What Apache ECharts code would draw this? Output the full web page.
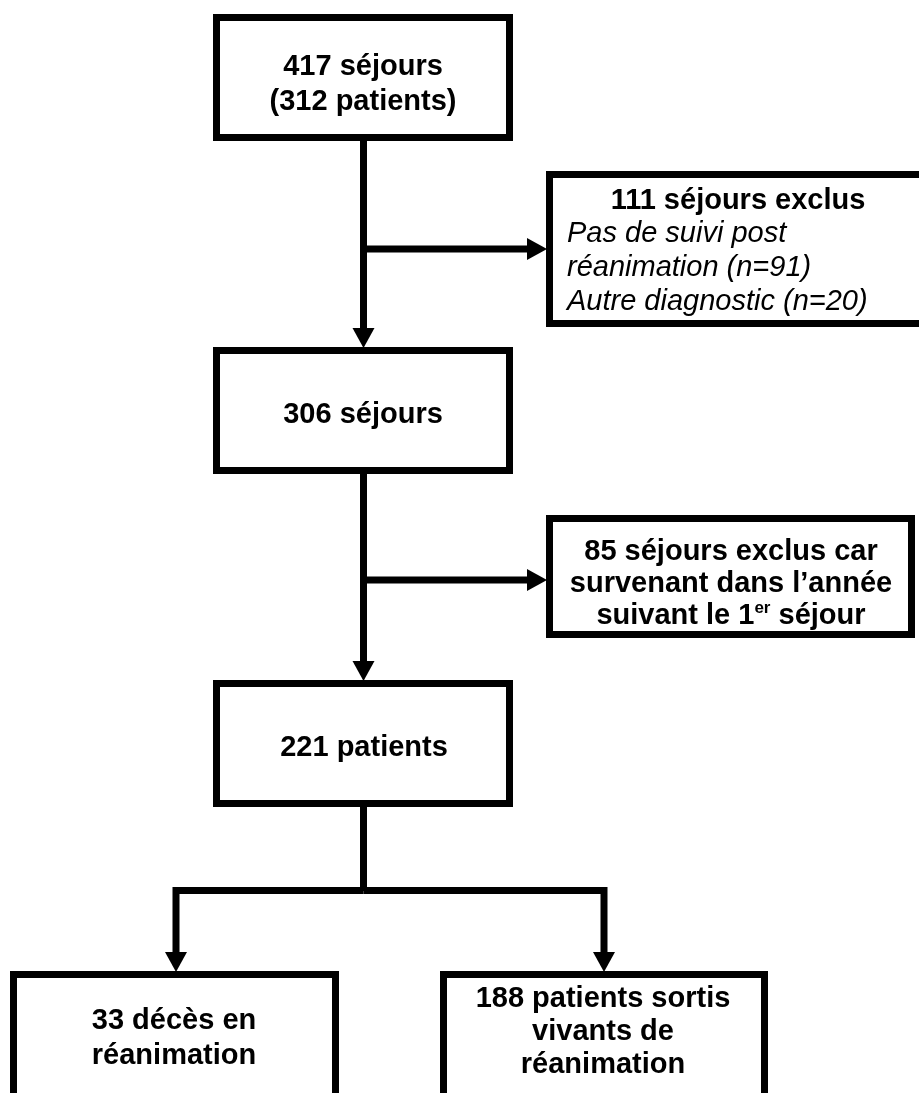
<!DOCTYPE html>
<html>
<head>
<meta charset="utf-8">
<title>Flowchart</title>
<script src="https://cdn.jsdelivr.net/npm/echarts@6/dist/echarts.min.js"></script>
<style>
  html, body { margin: 0; padding: 0; background: #fff; }
  #chart { width: 919px; height: 1093px; }
</style>
</head>
<body>
<div id="chart"></div>
<script>
// data: texts of the boxes
const stepLines = [
  ['417 séjours', '(312 patients)'],
  ['306 séjours'],
  ['221 patients']
];
const exclusion1Title = '111 séjours exclus';
const exclusion1Reasons = ['Pas de suivi post', 'réanimation (n=91)', 'Autre diagnostic (n=20)'];
const exclusion2Lines = ['85 séjours exclus car', 'survenant dans l’année', 'suivant le 1{sup|er} séjour'];
const outcomeLines = [
  ['33 décès en', 'réanimation'],
  ['188 patients sortis', 'vivants de', 'réanimation']
];

// layout (outer edges of boxes, in page units)
const boxLayout = [
  { x0: 213, y0: 14,  x1: 513, y1: 141, texts: [{ lines: stepLines[0], cx: 363, cy: 84, lh: 35 }] },
  { x0: 546, y0: 171, x1: 945, y1: 327, texts: [
      { lines: [exclusion1Title], cx: 738, cy: 201, lh: 34 },
      { lines: exclusion1Reasons, cx: 567, cy: 268, lh: 34, italic: true, align: 'left' }
  ] },
  { x0: 213, y0: 347, x1: 513, y1: 474, texts: [{ lines: stepLines[1], cx: 363, cy: 415, lh: 35 }] },
  { x0: 546, y0: 515, x1: 915, y1: 638, texts: [{ lines: exclusion2Lines, cx: 731, cy: 584, lh: 32 }] },
  { x0: 213, y0: 680, x1: 513, y1: 807, texts: [{ lines: stepLines[2], cx: 364, cy: 748, lh: 35 }] },
  { x0: 10,  y0: 971, x1: 339, y1: 1110, texts: [{ lines: outcomeLines[0], cx: 174, cy: 1038, lh: 35 }] },
  { x0: 440, y0: 971, x1: 768, y1: 1110, texts: [{ lines: outcomeLines[1], cx: 603, cy: 1032, lh: 33 }] }
];

const connectors = [
  { points: [[363.5, 141], [363.5, 348]], arrow: true },
  { points: [[363.5, 249], [547, 249]], arrow: true },
  { points: [[363.5, 474], [363.5, 681]], arrow: true },
  { points: [[363.5, 580], [547, 580]], arrow: true },
  { points: [[363.5, 807], [363.5, 891]], arrow: false },
  { points: [[363.5, 890.5], [176, 890.5], [176, 972]], arrow: true },
  { points: [[363.5, 890.5], [604, 890.5], [604, 972]], arrow: true }
];

const LINE_W = 7;
const ARROW_LEN = 20;
const ARROW_HALF = 11;
const FONT = '"Liberation Sans", Arial, Helvetica, sans-serif';
const FONT_SIZE = 29;

const chart = echarts.init(document.getElementById('chart'));

function renderBox(params, api) {
  const b = boxLayout[params.dataIndex];
  const p0 = api.coord([api.value(0), api.value(1)]);
  const p1 = api.coord([api.value(2), api.value(3)]);
  const children = [{
    type: 'rect',
    shape: {
      x: p0[0] + LINE_W / 2, y: p0[1] + LINE_W / 2,
      width: p1[0] - p0[0] - LINE_W, height: p1[1] - p0[1] - LINE_W
    },
    style: { fill: '#fff', stroke: '#000', lineWidth: LINE_W }
  }];
  b.texts.forEach(t => {
    const c = api.coord([t.cx, t.cy]);
    children.push({
      type: 'text',
      style: {
        text: t.lines.join('\n'),
        x: c[0], y: c[1],
        fill: '#000',
        fontSize: FONT_SIZE,
        fontWeight: t.italic ? 'normal' : 'bold',
        fontStyle: t.italic ? 'italic' : 'normal',
        fontFamily: FONT,
        align: t.align || 'center',
        verticalAlign: 'middle',
        lineHeight: t.lh,
        rich: {
          sup: { fontSize: 17, fontWeight: 'bold', fontFamily: FONT, verticalAlign: 'top', lineHeight: 22, fill: '#000' }
        }
      }
    });
  });
  return { type: 'group', children };
}

function renderConnector(params, api) {
  const c = connectors[params.dataIndex];
  const pts = c.points.map(p => api.coord(p));
  const children = [];
  const lineStyle = { stroke: '#000', lineWidth: LINE_W, fill: null, lineJoin: 'miter', lineCap: 'butt' };
  if (c.arrow) {
    const n = pts.length;
    const tip = pts[n - 1], prev = pts[n - 2];
    const dx = tip[0] - prev[0], dy = tip[1] - prev[1];
    const len = Math.sqrt(dx * dx + dy * dy);
    const ux = dx / len, uy = dy / len;
    const base = [tip[0] - ux * ARROW_LEN, tip[1] - uy * ARROW_LEN];
    const linePts = pts.slice(0, n - 1).concat([[base[0] + ux, base[1] + uy]]);
    children.push({ type: 'polyline', shape: { points: linePts }, style: lineStyle });
    children.push({
      type: 'polygon',
      shape: { points: [tip, [base[0] - uy * ARROW_HALF, base[1] + ux * ARROW_HALF], [base[0] + uy * ARROW_HALF, base[1] - ux * ARROW_HALF]] },
      style: { fill: '#000' }
    });
  } else {
    children.push({ type: 'polyline', shape: { points: pts }, style: lineStyle });
  }
  return { type: 'group', children };
}

chart.setOption({
  backgroundColor: '#fff',
  animation: false,
  grid: { left: 0, right: 0, top: 0, bottom: 0 },
  xAxis: { type: 'value', min: 0, max: 919, show: false },
  yAxis: { type: 'value', min: 0, max: 1093, inverse: true, show: false },
  series: [
    {
      type: 'custom',
      name: 'connectors',
      clip: false,
      renderItem: renderConnector,
      data: connectors.map((c, i) => [c.points[0][0], c.points[0][1], i]),
      z: 1
    },
    {
      type: 'custom',
      name: 'boxes',
      clip: false,
      renderItem: renderBox,
      data: boxLayout.map(b => [b.x0, b.y0, b.x1, b.y1]),
      z: 2
    }
  ]
});
</script>
</body>
</html>
